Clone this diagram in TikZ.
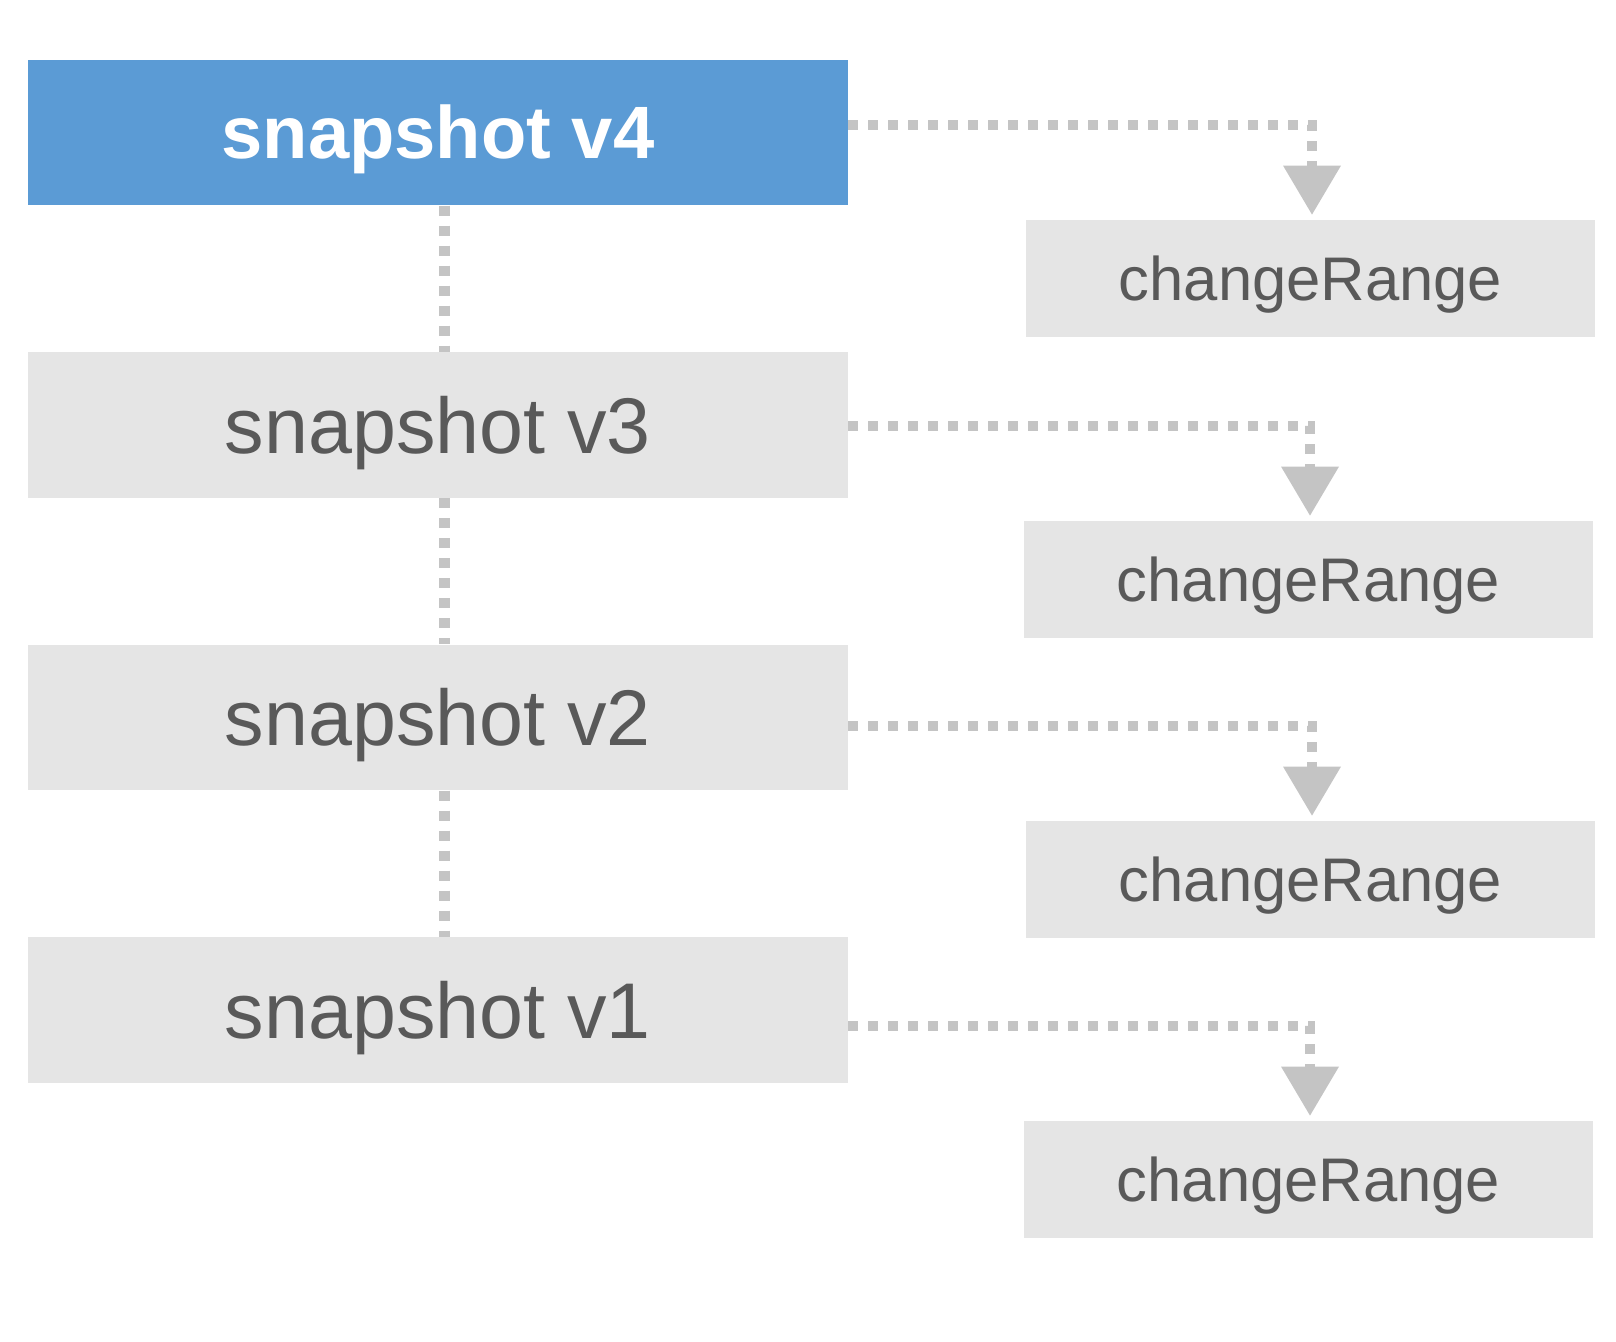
\documentclass[tikz,border=0pt]{standalone}
\usepackage{fontspec}
\setmainfont{Liberation Sans}
\usepackage{tkz-euclide}
\usetikzlibrary{arrows.meta,calc}

\definecolor{snapblue}{HTML}{5B9BD5}
\definecolor{boxgray}{HTML}{E5E5E5}
\definecolor{textgray}{HTML}{595959}
\definecolor{linegray}{HTML}{C4C4C4}

\begin{document}
\begin{tikzpicture}[x=0.5pt,y=0.5pt,
    snapbox/.style={fill=boxgray,text=textgray,inner sep=0pt,
      minimum width=410pt,minimum height=72.75pt,
      font=\fontsize{39.5}{40}\selectfont,text height=28.3pt,text depth=0pt},
    snapnow/.style={snapbox,fill=snapblue,text=white,
      font=\fontsize{37.1}{38}\selectfont\bfseries,text height=26.5pt},
    rangebox/.style={fill=boxgray,text=textgray,inner sep=0pt,
      minimum width=284.5pt,minimum height=58.75pt,
      font=\fontsize{30.8}{31}\selectfont,text height=22pt,text depth=0pt},
    link/.style={draw=linegray,line width=5pt,dash pattern=on 5pt off 5pt,
      -{Triangle[width=29pt,length=24.5pt,line width=0pt]},shorten >=2.5pt},
    chain/.style={draw=linegray,line width=5.5pt,dash pattern=on 5pt off 5pt}]
            \useasboundingbox (0,0) rectangle (1616,1342);
            \tkzDefPoints{438/1209.5/S4,438/917/S3,438/624.5/S2,438/332/S1}
            \tkzDefPoints{1310.5/1063.25/R4,1308.5/762.25/R3,1310.5/462.25/R2,1308.5/162.25/R1}
            \tkzDefPoints{1312/1217/K4,1310/916/K3,1312/616/K2,1310/316/K1}
            \node[snapnow] (v4) at (S4) {snapshot v4};
            \node[snapbox] (v3) at (S3) {snapshot v3};
            \node[snapbox] (v2) at (S2) {snapshot v2};
            \node[snapbox] (v1) at (S1) {snapshot v1};
            \node[rangebox] (cr4) at (R4) {changeRange};
            \node[rangebox] (cr3) at (R3) {changeRange};
            \node[rangebox] (cr2) at (R2) {changeRange};
            \node[rangebox] (cr1) at (R1) {changeRange};
            \draw[chain] ([xshift=3pt]v4.south) -- ([xshift=3pt]v3.north);
            \draw[chain] ([xshift=3pt]v3.south) -- ([xshift=3pt]v2.north);
            \draw[chain] ([xshift=3pt]v2.south) -- ([xshift=3pt]v1.north);
            \draw[link] (v4.east |- K4) -- (K4) -- (K4 |- cr4.north);
            \draw[link] (v3.east |- K3) -- (K3) -- (K3 |- cr3.north);
            \draw[link] (v2.east |- K2) -- (K2) -- (K2 |- cr2.north);
            \draw[link] (v1.east |- K1) -- (K1) -- (K1 |- cr1.north);
        \end{tikzpicture}
\end{document}
